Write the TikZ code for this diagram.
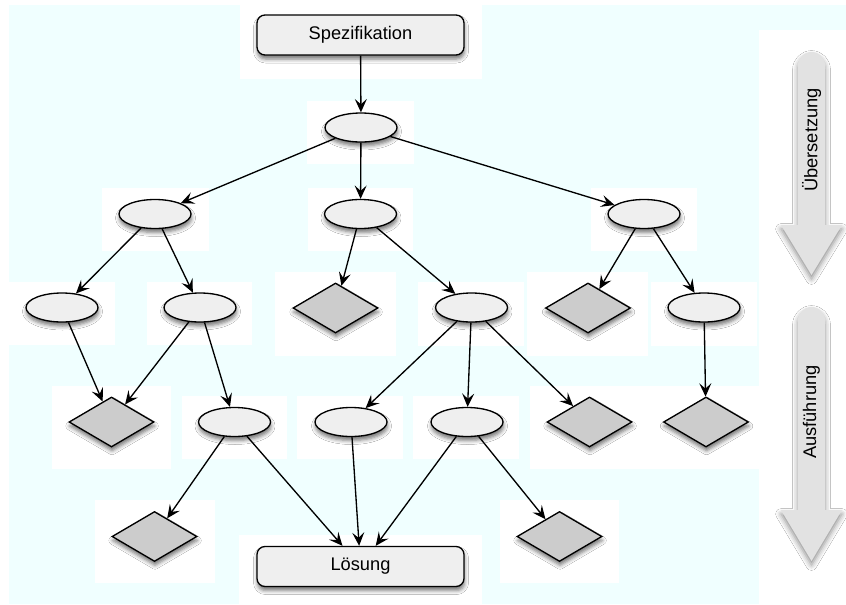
\documentclass[tikz,border=0pt]{standalone}
\usepackage{fontspec}
\setmainfont{Liberation Sans}
\usetikzlibrary{shapes.geometric, arrows.meta, shadows.blur}

\definecolor{bgcyan}{RGB}{240,255,255}
\definecolor{nodefill}{RGB}{239,239,239}
\definecolor{leaffill}{RGB}{204,204,204}
\definecolor{flowfill}{RGB}{226,226,226}

\tikzset{
  soft/.style={blur shadow={shadow xshift=0.4pt, shadow yshift=-3pt, shadow blur radius=3pt, shadow opacity=55}},
  state/.style={ellipse, draw, line width=1pt, fill=nodefill, minimum width=54pt, minimum height=21.75pt, inner sep=0pt, soft},
  leaf/.style={diamond, draw, line width=1pt, fill=leaffill, minimum width=63.75pt, minimum height=37.5pt, inner sep=0pt, soft},
  endbox/.style={rectangle, rounded corners=6pt, draw, line width=1pt, fill=nodefill, minimum width=155.25pt, minimum height=30pt, inner sep=0pt, font=\fontsize{13.7pt}{16pt}\selectfont, soft},
  edge/.style={line width=1pt, -{Stealth[length=10pt, width=9pt, inset=4pt]}},
  patch/.style={fill=white},
  flow/.style={fill=flowfill, blur shadow={shadow xshift=0pt, shadow yshift=-3pt, shadow blur radius=4pt, shadow opacity=45}},
  flowlabel/.style={rotate=90, font=\fontsize{13.7pt}{16pt}\selectfont}
}

\begin{document}
\begin{tikzpicture}[x=0.75pt, y=-0.75pt]
\useasboundingbox (0,0) rectangle (846,604);

% background
\fill[white] (0,0) rectangle (846,604);
\fill[bgcyan] (9,5) rectangle (846,604);

% white backing areas behind the nodes
\fill[patch] (240,0) rectangle (482,79);
\fill[patch] (759,30) rectangle (846,604);
\fill[patch] (307,101) rectangle (414,164);
\fill[patch] (102,188) rectangle (209,251);
\fill[patch] (308,188) rectangle (413,251);
\fill[patch] (591,188) rectangle (697,251);
\fill[patch] (8,282) rectangle (115,345);
\fill[patch] (147,282) rectangle (252,345);
\fill[patch] (275,272) rectangle (396,356);
\fill[patch] (418,282) rectangle (524,346);
\fill[patch] (527,272) rectangle (648,356);
\fill[patch] (651,282) rectangle (757,346);
\fill[patch] (52,386) rectangle (171,469);
\fill[patch] (182,396) rectangle (287,459);
\fill[patch] (297,396) rectangle (403,459);
\fill[patch] (413,396) rectangle (519,459);
\fill[patch] (530,386) rectangle (759,469);
\fill[patch] (95,500) rectangle (215,583);
\fill[patch] (239,535) rectangle (482,604);
\fill[patch] (500,500) rectangle (619,583);

% nodes
\node[endbox] (spec) at (360.5,35) {Spezifikation};
\node[state] (root) at (361,127.5) {};

\node[state] (a1) at (155,214) {};
\node[state] (a2) at (360.5,214) {};
\node[state] (a3) at (644,214) {};

\node[state] (b1) at (62,307.5) {};
\node[state] (b2) at (200,307.5) {};
\node[leaf]  (b3) at (335.5,308) {};
\node[state] (b4) at (471.5,307.5) {};
\node[leaf]  (b5) at (588,308) {};
\node[state] (b6) at (704,307.5) {};

\node[leaf]  (c1) at (111.5,422) {};
\node[state] (c2) at (234.5,422) {};
\node[state] (c3) at (351,422) {};
\node[state] (c4) at (467,422) {};
\node[leaf]  (c5) at (589.5,422) {};
\node[leaf]  (c6) at (706,422) {};

\node[leaf]  (d1) at (154.5,536.5) {};
\node[leaf]  (d2) at (559.5,536.5) {};

\node[endbox] (sol) at (360.5,566.5) {Lösung};

% connectors
\draw[edge] (spec) -- (root);
\draw[edge] (root) -- (a1);
\draw[edge] (root) -- (a2);
\draw[edge] (root) -- (a3);
\draw[edge] (a1) -- (b1);
\draw[edge] (a1) -- (b2);
\draw[edge] (a2) -- (b3);
\draw[edge] (a2) -- (b4);
\draw[edge] (a3) -- (b5);
\draw[edge] (a3) -- (b6);
\draw[edge] (b1) -- (c1);
\draw[edge] (b2) -- (c1);
\draw[edge] (b2) -- (c2);
\draw[edge] (b4) -- (c3);
\draw[edge] (b4) -- (c4);
\draw[edge] (b4) -- (c5);
\draw[edge] (b6) -- (c6);
\draw[edge] (c2) -- (d1);
\draw[edge] (c2) -- (sol);
\draw[edge] (c3) -- (sol);
\draw[edge] (c4) -- (sol);
\draw[edge] (c4) -- (d2);

% phase arrows
\path[flow] (781,225) -- (798,225) -- (798,65.5)
  arc[start angle=180, end angle=0, radius=10.125pt]
  -- (825,225) -- (842,225) -- (811.5,275) -- cycle;
\node[flowlabel] (trans) at (811.5,140) {Übersetzung};

\path[flow] (781,510) -- (798,510) -- (798,320.5)
  arc[start angle=180, end angle=0, radius=10.125pt]
  -- (825,510) -- (842,510) -- (811.5,561) -- cycle;
\node[flowlabel] (exec) at (811.5,412) {Ausführung};

\end{tikzpicture}
\end{document}
